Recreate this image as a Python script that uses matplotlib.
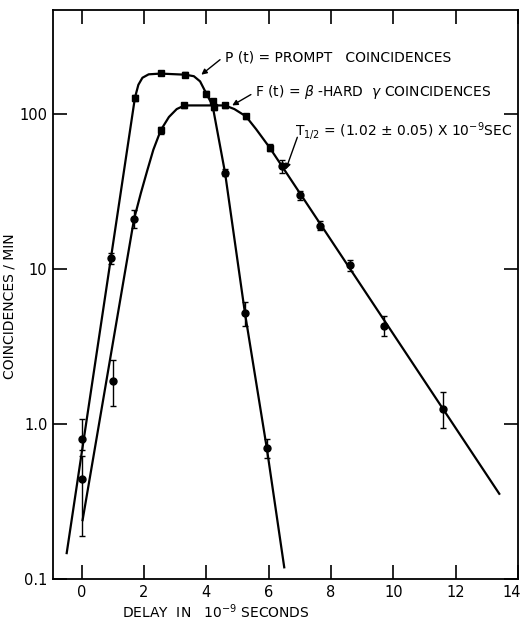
import matplotlib
matplotlib.use("Agg")
import matplotlib.pyplot as plt
import matplotlib.transforms as mtransforms
import numpy as np

plt.rcParams['font.family'] = ['DejaVu Sans']

# P(t) prompt coincidences: measured points
p_x = [0.0, 0.95, 1.71, 2.53, 3.33, 4.0, 4.2, 4.6, 5.24, 5.94]
p_y = [0.80, 11.8, 128, 184, 180, 136, 121, 42, 5.2, 0.70]
p_lo = [0.68, 10.8, 122, 178, 174, 131, 116, 40, 4.3, 0.60]
p_hi = [1.08, 12.8, 134, 190, 186, 141, 126, 44, 6.1, 0.80]

# F(t) beta - hard gamma coincidences: measured points
f_x = [0.0, 1.0, 1.68, 2.54, 3.27, 4.25, 4.6, 5.27, 6.03, 6.44, 7.0, 7.65, 8.6, 9.7, 11.6]
f_y = [0.44, 1.9, 21, 79, 114, 111, 114, 97, 61, 46, 30, 19, 10.6, 4.3, 1.25]
f_lo = [0.19, 1.3, 18.5, 75, 110, 107, 110, 93, 58, 42, 28, 17.8, 9.8, 3.7, 0.95]
f_hi = [0.62, 2.6, 24, 83, 118, 115, 118, 101, 64, 51, 32, 20.5, 11.5, 5.0, 1.6]

# hand drawn curves (vertices)
pc_x = [-0.48, 1.71, 1.82, 1.95, 2.15, 2.53, 3.33, 3.6, 3.8, 4.0, 4.2, 4.6, 5.24, 5.94, 6.5]
pc_y = [0.147, 128, 155, 172, 181, 183, 180, 176, 163, 136, 114, 42, 5.2, 0.70, 0.119]
fc_x = [0.03, 1.68, 1.9, 2.1, 2.3, 2.54, 2.8, 3.05, 3.3, 4.6, 4.9, 5.27, 5.6, 6.03, 13.4]
fc_y = [0.24, 21, 31, 43, 59, 79, 96, 108, 114, 114, 108, 97, 80, 61, 0.355]

fig = plt.figure(figsize=(5.21, 6.2), dpi=100)
ax = fig.add_axes([0.1017, 0.0661, 0.8925, 0.9178])

ax.plot(pc_x, pc_y, color="black", lw=1.6)
ax.plot(fc_x, fc_y, color="black", lw=1.6)


def draw_points(xs, ys, lo, hi):
    xs = np.array(xs); ys = np.array(ys)
    err = [ys - np.array(lo), np.array(hi) - ys]
    sq = ys > 50
    for mask, m, ms in [(sq, "s", 4), (~sq, "o", 5)]:
        ax.errorbar(xs[mask], ys[mask], yerr=[err[0][mask], err[1][mask]],
                    fmt=m, color="black", ms=ms, elinewidth=1, capsize=2.5,
                    capthick=1, zorder=3)


draw_points(p_x, p_y, p_lo, p_hi)
draw_points(f_x, f_y, f_lo, f_hi)

ax.set_yscale("log")
ax.set_xlim(-0.92, 14.0)
ax.set_ylim(0.1, 471)
ax.set_xticks([0, 2, 4, 6, 8, 10, 12, 14])
ax.set_yticks([0.1, 1, 10, 100])
ax.set_yticklabels(["0.1", "1.0", "10", "100"])
ax.minorticks_off()
ax.tick_params(direction="in", length=10, width=1.2, top=True, right=True,
               labelsize=10.5, pad=4)
for s in ax.spines.values():
    s.set_linewidth(1.3)

# the last x label sits right at the edge, nudge it in a little
last = ax.get_xticklabels()[-1]
last.set_transform(last.get_transform() +
                   mtransforms.ScaledTranslation(-6 / 100, 0, fig.dpi_scale_trans))

ax.set_ylabel("COINCIDENCES / MIN", fontsize=10)
ax.yaxis.set_label_coords(-0.078, 0.48)
ax.text(0.35, -0.057, "DELAY  IN   10$^{-9}$ SECONDS", transform=ax.transAxes,
        ha="center", va="center", fontsize=10)

arrow = dict(arrowstyle="-|>", color="black", lw=1, shrinkA=0, shrinkB=0,
             mutation_scale=8)
ax.annotate("", xy=(3.84, 180), xytext=(4.44, 225), arrowprops=arrow)
ax.text(4.6, 232, "P (t) = PROMPT   COINCIDENCES", fontsize=10, va="center")
ax.annotate("", xy=(4.83, 114), xytext=(5.43, 134), arrowprops=arrow)
ax.text(5.55, 140, "F (t) = $\\beta$ -HARD  $\\gamma$ COINCIDENCES", fontsize=10,
        va="center")
ax.annotate("", xy=(6.55, 44), xytext=(6.92, 71), arrowprops=arrow)
ax.text(6.86, 78, "T$_{1/2}$ = (1.02 ± 0.05) X 10$^{-9}$SEC", fontsize=10,
        va="center")

fig.savefig("out.png", dpi=100)
